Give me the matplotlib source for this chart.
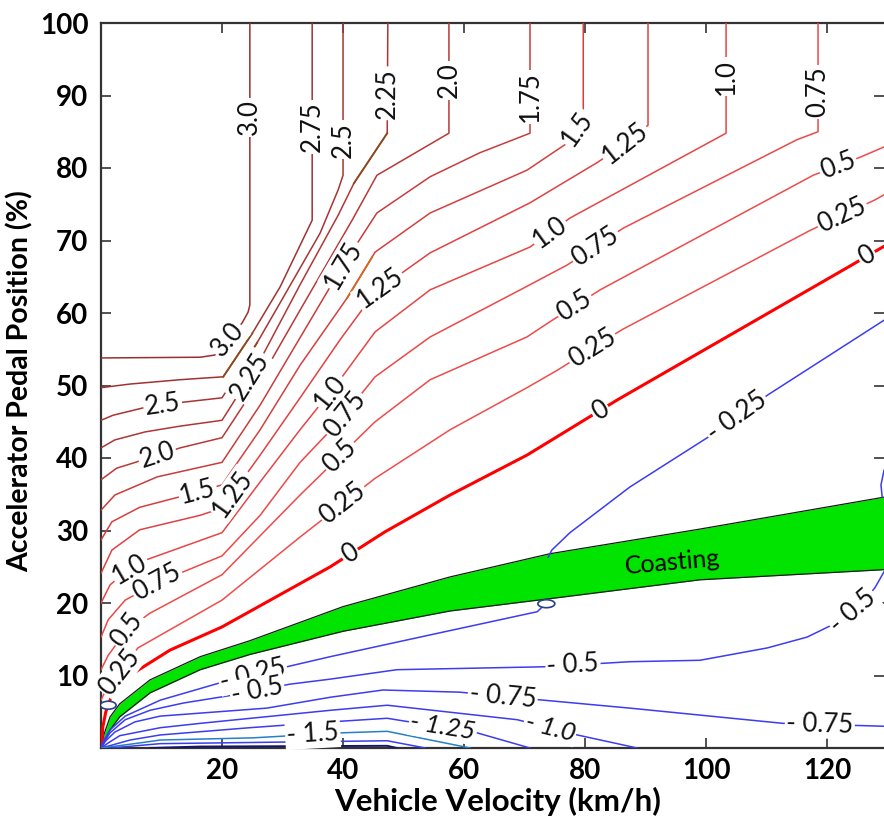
import numpy as np
import matplotlib.pyplot as plt
from matplotlib.patches import Ellipse

plt.rcParams['font.family'] = ['Lato', 'DejaVu Sans']

# axis ticks
vel_ticks = [20, 40, 60, 80, 100, 120]
ped_ticks = [10, 20, 30, 40, 50, 60, 70, 80, 90, 100]

# acceleration contours, each as (vehicle velocity km/h, pedal position %)
v_300 = [0, 16.4, 18.8, 23.3, 24.3, 24.6, 24.6]
p_300 = [53.8, 53.9, 54.2, 58.6, 60.1, 61.1, 100]
v_275 = [0, 4.8, 13.1, 20.2, 25.0, 29.6, 34.9, 34.9]
p_275 = [49.7, 50.2, 50.8, 51.2, 57.2, 63.6, 72.8, 100]
v_250 = [0, 2.0, 6.9, 13.6, 20.0, 25.8, 29.6, 36.2, 39.2, 40.0, 40.0]
p_250 = [45.2, 45.9, 46.9, 47.7, 48.3, 55.9, 61.4, 71.0, 77.0, 79.0, 100]
v_225 = [0, 2.3, 7.3, 13.1, 20.0, 26.3, 32.9, 39.2, 41.8, 47.3, 47.4]
p_225 = [41.4, 42.5, 43.6, 44.4, 45.2, 53.5, 63.9, 73.5, 77.9, 84.8, 100]
v_200 = [0, 2.6, 5.3, 13.1, 20.0, 26.3, 32.9, 41.5, 45.6, 57.5, 57.5]
p_200 = [37.0, 38.6, 39.3, 41.4, 42.8, 50.8, 60.4, 72.8, 79.0, 84.8, 100]
v_175 = [0, 2.3, 9.3, 20.0, 26.3, 32.9, 40.0, 45.6, 54.4, 62.6, 70.9, 70.9]
p_175 = [32.8, 34.9, 37.4, 39.4, 47.3, 56.6, 66.6, 73.8, 78.8, 82.1, 84.8, 100]
v_150 = [0, 1.8, 6.4, 16.0, 20.0, 26.3, 32.9, 40.7, 45.3, 54.4, 70.4, 77.0, 78.8, 79.7, 79.7]
p_150 = [28.7, 31.2, 33.2, 35.3, 36.3, 43.9, 52.8, 62.1, 68.4, 73.8, 79.7, 83.4, 85.5, 88.0, 100]
v_125 = [0, 1.8, 6.4, 16.4, 20.0, 26.3, 32.9, 39.5, 45.3, 54.4, 70.9, 82.1, 85.8, 90.4, 90.4]
p_125 = [24.1, 27.3, 30.1, 32.1, 33.1, 40.4, 48.3, 56.3, 62.9, 68.3, 75.2, 80.8, 82.9, 85.9, 100]
v_100 = [0, 1.5, 4.0, 7.3, 20.0, 26.3, 32.9, 39.5, 45.3, 54.4, 70.9, 77.5, 103.3, 103.3]
p_100 = [20.0, 22.5, 24.3, 25.9, 29.7, 36.7, 43.9, 50.8, 57.4, 63.2, 69.1, 73.1, 84.8, 100]
v_075 = [0, 1.2, 4.0, 9.3, 13.6, 20.0, 26.3, 32.9, 39.5, 45.3, 54.4, 69.3, 77.0, 86.3, 115.0, 118.5, 118.5]
p_075 = [15.3, 17.7, 20.4, 22.8, 24.3, 26.5, 32.1, 39.4, 45.2, 51.2, 56.7, 63.2, 66.6, 71.7, 83.9, 85.0, 100]
v_050 = [0, 1.2, 4.3, 8.1, 20.0, 32.9, 45.3, 54.4, 70.4, 74.2, 82.5, 117.7, 125.5, 129.4]
p_050 = [10.8, 12.8, 16.3, 18.6, 23.9, 34.9, 45.0, 50.8, 56.7, 58.8, 63.2, 79.0, 81.5, 82.9]
v_025 = [0, 0.8, 3.1, 6.1, 20.0, 32.9, 45.3, 57.7, 70.4, 75.4, 86.1, 117.2, 127.9, 129.4]
p_025 = [6.6, 8.0, 10.5, 13.8, 20.4, 29.1, 37.2, 43.9, 49.7, 52.1, 57.7, 71.4, 75.6, 76.3]
v_000 = [0.1, 0.3, 0.8, 2.0, 5.3, 11.4, 20.0, 37.9, 46.9, 57.7, 70.4, 85.3, 123.0, 129.4]
p_000 = [0.0, 2.9, 5.0, 7.7, 10.3, 13.5, 16.7, 25.0, 29.8, 34.9, 40.4, 48.0, 66.1, 69.2]

v_m025a = [0, 0.5, 1.5, 4.0, 9.8, 19.7, 31.2, 37.9, 54.4, 72.1, 73.1]
p_m025a = [0, 1.1, 2.5, 4.4, 6.6, 9.0, 11.3, 12.6, 15.6, 18.8, 19.6]
v_m025b = [73.9, 74.5, 77.5, 87.4, 100.2, 110.2, 129.4]
p_m025b = [26.3, 27.3, 29.7, 36.0, 42.8, 48.7, 59.0]
v_m025c = [129.4, 128.9, 129.1]
p_m025c = [38.3, 36.3, 34.6]
v_m050 = [0, 0.5, 1.5, 4.0, 8.1, 13.6, 21.8, 31.2, 37.9, 48.9, 73.1, 87.4, 99.0, 110.1, 116.7, 122.6, 125.8, 127.9, 129.4]
p_m050 = [0, 0.8, 2.1, 3.9, 5.2, 6.2, 7.3, 8.8, 9.5, 10.8, 11.2, 11.9, 12.1, 13.8, 15.3, 17.7, 20.0, 22.1, 24.3]
v_m075 = [0, 0.8, 2.3, 5.6, 9.8, 27.4, 37.9, 46.6, 59.3, 73.1, 87.4, 112.7, 129.4]
p_m075 = [0, 1.0, 2.2, 3.6, 4.4, 5.5, 7.0, 8.0, 7.7, 6.6, 5.5, 3.4, 3.0]
v_m100 = [0, 1.2, 3.1, 9.8, 16.4, 37.9, 47.3, 68.8, 78.7, 88.6]
p_m100 = [0, 0.7, 1.7, 2.8, 3.4, 5.2, 5.9, 3.9, 1.8, 0]
v_m125 = [0, 1.8, 4.8, 9.8, 24.6, 37.9, 47.3, 62.1, 70.9]
p_m125 = [0, 0.4, 1.1, 1.8, 2.8, 3.6, 4.1, 2.1, 0]
v_m150 = [0, 2.8, 6.4, 9.8, 25.1, 40.0, 47.3, 61.0]
p_m150 = [0, 0.3, 0.7, 1.1, 1.4, 2.1, 2.3, 0]
v_m175 = [1.5, 9.8, 47.3, 53.6]
p_m175 = [0, 0.6, 1.0, 0]
v_m200 = [8.1, 16.4, 47.3, 48.9]
p_m200 = [0, 0.2, 0.3, 0]

# coasting band
band_v = [0, 0.5, 1.5, 3.1, 8.1, 16.4, 24.6, 40.0, 57.7, 74.2, 99.0, 129.4]
band_hi = [0, 1.9, 4.3, 6.1, 9.4, 12.6, 14.8, 19.5, 23.6, 26.8, 30.2, 34.6]
band_lo = [0, 0.9, 2.5, 4.3, 7.6, 10.8, 12.9, 16.1, 18.9, 20.6, 23.2, 24.6]

# hand-coloured pieces that sit on top of some contours
acc_v = [[20.2, 25.0], [21.0, 25.8], [41.8, 47.3], [40.7, 44.8]]
acc_p = [[51.2, 57.2], [49.6, 55.9], [77.9, 84.8], [62.1, 67.7]]
acc_c = ['#8b4a1c', '#8b4a1c', '#8b4a1c', '#d2691e']

lines = {
    '3.0': (v_300, p_300, '#9a2f2f', 1.1),
    '2.75': (v_275, p_275, '#a03232', 1.1),
    '2.5': (v_250, p_250, '#a83434', 1.1),
    '2.25': (v_225, p_225, '#b03636', 1.1),
    '2.0': (v_200, p_200, '#b83838', 1.1),
    '1.75': (v_175, p_175, '#c83c3c', 1.1),
    '1.5': (v_150, p_150, '#d43f3f', 1.1),
    '1.25': (v_125, p_125, '#de4242', 1.1),
    '1.0': (v_100, p_100, '#e64545', 1.1),
    '0.75': (v_075, p_075, '#ec4848', 1.1),
    '0.5': (v_050, p_050, '#ef4a4a', 1.1),
    '0.25': (v_025, p_025, '#f04c4c', 1.1),
    '0': (v_000, p_000, '#ff0000', 2.2),
    '-0.25a': (v_m025a, p_m025a, '#3c3cf0', 1.1),
    '-0.25b': (v_m025b, p_m025b, '#3c3cf0', 1.1),
    '-0.25c': (v_m025c, p_m025c, '#3c3cf0', 1.1),
    '-0.5': (v_m050, p_m050, '#3c3cf0', 1.1),
    '-0.75': (v_m075, p_m075, '#3c3cf0', 1.1),
    '-1.0': (v_m100, p_m100, '#3c3cf0', 1.1),
    '-1.25': (v_m125, p_m125, '#3c3cf0', 1.1),
    '-1.5': (v_m150, p_m150, '#2480c8', 1.1),
    '-1.75': (v_m175, p_m175, '#3c3cf0', 1.1),
    '-2.0': (v_m200, p_m200, '#141470', 1.4),
}

# inline labels: (line, text, locate by 'x' or 'y', value, italic)
labels = [
    ('3.0', '3.0', 'x', 21.0, False), ('3.0', '3.0', 'y', 87.0, False),
    ('2.75', '2.75', 'y', 85.7, False),
    ('2.5', '2.5', 'x', 10.2, False), ('2.5', '2.5', 'y', 83.9, False),
    ('2.25', '2.25', 'x', 24.6, False), ('2.25', '2.25', 'y', 90.3, False),
    ('2.0', '2.0', 'x', 9.3, False), ('2.0', '2.0', 'y', 92.1, False),
    ('1.75', '1.75', 'x', 40.0, False), ('1.75', '1.75', 'y', 89.8, False),
    ('1.5', '1.5', 'x', 16.0, False), ('1.5', '1.5', 'x', 78.7, False),
    ('1.25', '1.25', 'x', 21.7, False), ('1.25', '1.25', 'x', 46.1, False),
    ('1.25', '1.25', 'x', 86.6, False),
    ('1.0', '1.0', 'x', 4.8, False), ('1.0', '1.0', 'x', 37.9, False),
    ('1.0', '1.0', 'x', 74.2, False), ('1.0', '1.0', 'y', 92.6, False),
    ('0.75', '0.75', 'x', 9.3, False), ('0.75', '0.75', 'x', 40.3, False),
    ('0.75', '0.75', 'x', 81.7, False), ('0.75', '0.75', 'y', 90.5, False),
    ('0.5', '0.5', 'x', 4.3, False), ('0.5', '0.5', 'x', 39.5, False),
    ('0.5', '0.5', 'x', 78.3, False), ('0.5', '0.5', 'x', 121.8, False),
    ('0.25', '0.25', 'x', 3.1, False), ('0.25', '0.25', 'x', 40.0, False),
    ('0.25', '0.25', 'x', 81.2, False), ('0.25', '0.25', 'x', 122.5, False),
    ('0', '0', 'x', 41.2, False), ('0', '0', 'x', 82.5, False), ('0', '0', 'x', 126.6, False),
    ('-0.25a', '- 0.25', 'x', 25.1, False), ('-0.25b', '- 0.25', 'x', 105.1, False),
    ('-0.5', '- 0.5', 'x', 25.8, False), ('-0.5', '- 0.5', 'x', 78.0, False),
    ('-0.5', '- 0.5', 'x', 124.3, False),
    ('-0.75', '- 0.75', 'x', 66.4, False), ('-0.75', '- 0.75', 'x', 118.8, False),
    ('-1.0', '- 1.0', 'x', 74.2, True),
    ('-1.25', '- 1.25', 'x', 56.5, True),
    ('-1.5', '- 1.5', 'x', 35.0, False),
]

fig = plt.figure(figsize=(8.84, 8.17), dpi=100)
ax = fig.add_axes([101 / 884, 69 / 817, 783 / 884, 725 / 817])
ax.set_xlim(0, 129.4)
ax.set_ylim(0, 100)

ax.fill_between(band_v, band_lo, band_hi, color='#00e400', lw=0, zorder=2)
ax.plot(band_v, band_hi, color='#1a1a1a', lw=0.9, zorder=3)
ax.plot(band_v, band_lo, color='#1a1a1a', lw=0.9, zorder=3)

for key, (v, p, c, lw) in lines.items():
    ax.plot(v, p, color=c, lw=lw, zorder=3, solid_joinstyle='round')
for v, p, c in zip(acc_v, acc_p, acc_c):
    ax.plot(v, p, color=c, lw=1.3, zorder=4)


def put_label(v, p, text, mode, val, italic):
    pts = ax.transData.transform(np.column_stack([v, p]))
    for i in range(len(v) - 1):
        a, b = (v[i], v[i + 1]) if mode == 'x' else (p[i], p[i + 1])
        if a != b and min(a, b) <= val <= max(a, b):
            t = (val - a) / (b - a)
            break
    lx = v[i] + t * (v[i + 1] - v[i])
    ly = p[i] + t * (p[i + 1] - p[i])
    d = pts[i + 1] - pts[i]
    ang = np.degrees(np.arctan2(d[1], d[0]))
    if ang > 90:
        ang -= 180
    if ang < -90:
        ang += 180
    ax.text(lx, ly, text, rotation=ang, rotation_mode='anchor', ha='center', va='center',
            fontsize=18.5, style='italic' if italic else 'normal', color='#111111',
            bbox=dict(boxstyle='square,pad=0.06', fc='white', ec='none'), zorder=5)


for key, text, mode, val, italic in labels:
    v, p = lines[key][0], lines[key][1]
    put_label(v, p, text, mode, val, italic)

# squeezed "0" labels next to the coasting band
ax.add_patch(Ellipse((1.2, 5.9), 2.6, 1.1, fc='white', ec='#27408b', lw=1.2, zorder=6))
ax.add_patch(Ellipse((73.6, 19.9), 2.8, 1.1, fc='white', ec='#27408b', lw=1.2, zorder=6))

ax.text(94.4, 25.6, 'Coasting', rotation=5, ha='center', va='center', fontsize=18, zorder=6)

ax.set_xticks(vel_ticks)
ax.set_yticks(ped_ticks)
ax.tick_params(direction='in', length=7, width=1.2, top=True, right=True,
               labelsize=20, color='#333333', labelcolor='black')
ax.tick_params(axis='y', pad=9)
ax.tick_params(axis='x', pad=7)
for t in ax.get_xticklabels() + ax.get_yticklabels():
    t.set_fontweight('bold')
for s in ['left', 'top', 'bottom']:
    ax.spines[s].set_color('#333333')
    ax.spines[s].set_linewidth(1.6)
ax.spines['right'].set_visible(False)

ax.set_xlabel('Vehicle Velocity (km/h)', fontsize=22.5, fontweight='bold')
ax.set_ylabel('Accelerator Pedal Position (%)', fontsize=20.5, fontweight='bold')
ax.xaxis.set_label_coords(0.506, -0.054)
ax.yaxis.set_label_coords(-0.086, 0.506)

# fit the y label to the span it covers in the reference (pixels 190..572 from top)
fig.canvas.draw()
rend = fig.canvas.get_renderer()
yl = ax.yaxis.label
bb = yl.get_window_extent(rend)
yl.set_fontsize(yl.get_fontsize() * 382 / bb.height)
fig.canvas.draw()
bb = yl.get_window_extent(rend)
cy = (bb.y0 + bb.y1) / 2
target_cy = 817 - 381
ax.yaxis.set_label_coords(-0.086 + (34 - bb.x1) / 783, 0.506 + (target_cy - cy) / 725)

fig.savefig('out.png', dpi=100)
